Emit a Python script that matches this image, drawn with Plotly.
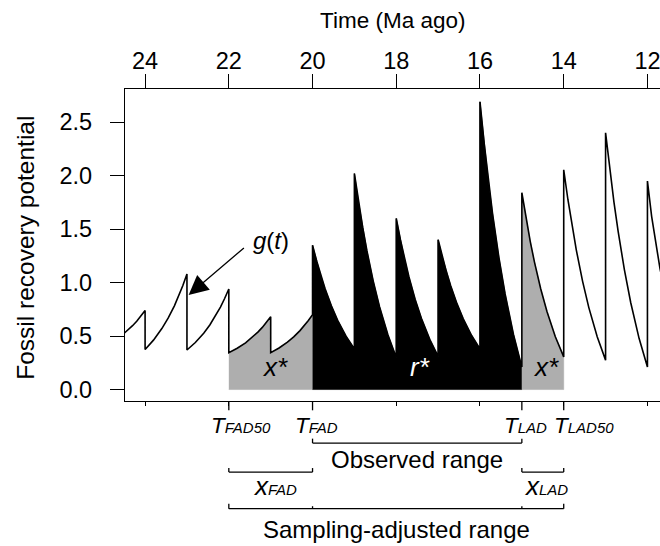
import plotly.graph_objects as go

# ---------------- data ----------------
tick_years = [24, 22, 20, 18, 16, 14, 12]
tick_year_text = ["24", "22", "20", "18", "16", "14", "12"]
y_ticks = [0.0, 0.5, 1.0, 1.5, 2.0, 2.5]
y_tick_text = ["0.0", "0.5", "1.0", "1.5", "2.0", "2.5"]

# key dates (Ma ago)
t_fad50 = 22
t_fad = 20
t_lad = 15
t_lad50 = 14

# g(t): fossil recovery potential, one list per 1-Ma sampling segment
seg_time = [
    [24.52, 24.4, 24.3, 24.2, 24.1, 24.0],
    [24.0, 23.8, 23.6, 23.45, 23.3, 23.2, 23.1, 23.0],
    [23.0, 22.8, 22.6, 22.45, 22.3, 22.2, 22.1, 22.0],
    [22.0, 21.8, 21.6, 21.45, 21.3, 21.2, 21.1, 21.0],
    [21.0, 20.8, 20.6, 20.45, 20.3, 20.2, 20.1, 20.0],
    [20.0, 19.9, 19.8, 19.7, 19.55, 19.4, 19.2, 19.0],
    [19.0, 18.9, 18.8, 18.7, 18.55, 18.4, 18.2, 18.0],
    [18.0, 17.9, 17.8, 17.7, 17.55, 17.4, 17.2, 17.0],
    [17.0, 16.9, 16.8, 16.7, 16.55, 16.4, 16.2, 16.0],
    [16.0, 15.9, 15.8, 15.7, 15.55, 15.4, 15.2, 15.0],
    [15.0, 14.9, 14.8, 14.7, 14.55, 14.4, 14.2, 14.0],
    [14.0, 13.9, 13.8, 13.7, 13.55, 13.4, 13.2, 13.0],
    [13.0, 12.9, 12.8, 12.7, 12.55, 12.4, 12.2, 12.0],
    [12.0, 11.9, 11.8, 11.7, 11.6],
]
seg_g = [
    [0.519, 0.558, 0.597, 0.639, 0.687, 0.74],
    [0.375, 0.462, 0.570, 0.667, 0.783, 0.871, 0.970, 1.08],
    [0.37, 0.440, 0.527, 0.606, 0.700, 0.771, 0.851, 0.94],
    [0.345, 0.386, 0.437, 0.484, 0.539, 0.581, 0.628, 0.68],
    [0.345, 0.389, 0.443, 0.492, 0.551, 0.595, 0.645, 0.70],
    [1.35, 1.199, 1.063, 0.942, 0.783, 0.648, 0.499, 0.38],
    [2.02, 1.752, 1.511, 1.296, 1.014, 0.775, 0.512, 0.30],
    [1.60, 1.399, 1.218, 1.057, 0.845, 0.666, 0.469, 0.31],
    [1.40, 1.241, 1.098, 0.971, 0.803, 0.662, 0.505, 0.38],
    [2.69, 2.303, 1.956, 1.646, 1.239, 0.894, 0.515, 0.21],
    [1.84, 1.601, 1.386, 1.194, 0.942, 0.729, 0.494, 0.305],
    [2.055, 1.777, 1.528, 1.306, 1.014, 0.766, 0.494, 0.275],
    [2.40, 2.058, 1.752, 1.478, 1.119, 0.814, 0.479, 0.21],
    [1.95, 1.62, 1.36, 1.13, 0.95],
]

# ---------------- figure ----------------
FONT = "Liberation Sans, Arial, Helvetica, sans-serif"
GRAY = "#AEAEAE"
PLOT_TOP, PLOT_BOTTOM = 89.0, 400.7
PLOT_H = PLOT_BOTTOM - PLOT_TOP


def py(p):
    """pixel row -> paper y"""
    return (PLOT_BOTTOM - p) / PLOT_H


fig = go.Figure()


def fill_between(t_start, t_end, color):
    xs, ys = [], []
    for ts, gs in zip(seg_time, seg_g):
        if ts[0] <= t_start and ts[-1] >= t_end:
            xs += ts
            ys += gs
    xs += [t_end, t_start]
    ys += [0, 0]
    fig.add_trace(go.Scatter(x=xs, y=ys, mode="lines", fill="toself",
                             fillcolor=color, line=dict(width=0.6, color=color),
                             hoverinfo="skip"))


fill_between(t_fad50, t_fad, GRAY)
fill_between(t_fad, t_lad, "black")
fill_between(t_lad, t_lad50, GRAY)

all_t, all_g = [], []
for ts, gs in zip(seg_time, seg_g):
    all_t += ts
    all_g += gs
fig.add_trace(go.Scatter(x=all_t, y=all_g, mode="lines",
                         line=dict(color="black", width=1.6), hoverinfo="skip"))
# invisible trace to activate the top axis
fig.add_trace(go.Scatter(x=[tick_years[0]], y=[0], xaxis="x2", mode="markers",
                         marker=dict(opacity=0), hoverinfo="skip"))

x_range = [24.48, 11.70]
axis_common = dict(showgrid=False, zeroline=False, showline=True, linecolor="black",
                   linewidth=1.3, ticks="outside", tickcolor="black", tickwidth=1.3)

fig.update_layout(
    width=660, height=546,
    margin=dict(l=124.5, r=0, t=PLOT_TOP, b=546 - PLOT_BOTTOM, pad=0),
    plot_bgcolor="white", paper_bgcolor="white", showlegend=False,
    font=dict(family=FONT, color="black"),
    xaxis=dict(range=x_range, tickvals=tick_years, ticklen=4, showticklabels=False,
               **axis_common),
    xaxis2=dict(range=x_range, overlaying="x", side="top", anchor="y",
                tickvals=tick_years, ticktext=tick_year_text, ticklen=14,
                tickfont=dict(size=23.5, family=FONT, color="black"),
                ticklabelstandoff=-5, ticklabeloverflow="allow", **axis_common),
    yaxis=dict(range=[-0.107, 2.81], tickvals=y_ticks, ticktext=y_tick_text, ticklen=14,
               tickfont=dict(size=23.5, family=FONT, color="black"),
               ticklabelstandoff=13, **axis_common),
)

# titles
fig.add_annotation(text="Time (Ma ago)", xref="paper", yref="paper", x=0.5, y=py(21),
                   xanchor="center", yanchor="middle", showarrow=False,
                   font=dict(size=22.5, family=FONT, color="black"))
fig.add_annotation(text="Fossil recovery potential", xref="paper", yref="paper",
                   x=(25 - 124.5) / 535.5, y=py(248), textangle=-90,
                   xanchor="center", yanchor="middle", showarrow=False,
                   font=dict(size=24.5, family=FONT, color="black"))

# area labels
fig.add_annotation(text="<i>x*</i>", x=(t_fad50 + t_fad) / 2, y=0.21, xshift=4,
                   showarrow=False, font=dict(size=26, family=FONT, color="black"))
fig.add_annotation(text="<i>r*</i>", x=(t_fad + t_lad) / 2, y=0.21, xshift=3,
                   showarrow=False, font=dict(size=26, family=FONT, color="white"))
fig.add_annotation(text="<i>x*</i>", x=(t_lad + t_lad50) / 2, y=0.21, xshift=3,
                   showarrow=False, font=dict(size=26, family=FONT, color="black"))

# g(t) label and arrow
fig.add_annotation(text="<i>g</i>(<i>t</i>)", x=21.0, y=1.39, showarrow=False,
                   font=dict(size=24, family=FONT, color="black"))
fig.add_annotation(text="", x=22.96, y=0.884, ax=21.604, ay=1.336, axref="x", ayref="y",
                   showarrow=True, arrowhead=2, arrowsize=3, arrowwidth=1.3,
                   arrowcolor="black", standoff=0, startstandoff=0)

# long ticks at key dates
shapes = []
for t in [t_fad50, t_fad, t_lad, t_lad50]:
    shapes.append(dict(type="line", xref="x", yref="paper", x0=t, x1=t,
                       y0=py(PLOT_BOTTOM), y1=py(410), line=dict(color="black", width=1.3)))


def bracket(t0, t1, yline, ytop, marks=()):
    shapes.append(dict(type="line", xref="x", yref="paper", x0=t0, x1=t1,
                       y0=py(yline), y1=py(yline), line=dict(color="black", width=1.3)))
    for t in (t0, t1):
        shapes.append(dict(type="line", xref="x", yref="paper", x0=t, x1=t,
                           y0=py(yline), y1=py(ytop), line=dict(color="black", width=1.3)))
    for t in marks:
        shapes.append(dict(type="line", xref="x", yref="paper", x0=t, x1=t,
                           y0=py(yline), y1=py(yline - 2.5), line=dict(color="black", width=1.3)))


bracket(t_fad, t_lad, 442.7, 438.3)
bracket(t_fad50, t_fad, 471.7, 467.7)
bracket(t_lad, t_lad50, 471.7, 467.7)
bracket(t_fad50, t_lad50, 508.3, 503.3, marks=(t_fad, t_lad))
fig.update_layout(shapes=shapes)

SUB = "<span style='font-size:15px'>{}</span>"
labels = [
    ("<i>T" + SUB.format("FAD50") + "</i>", t_fad50, -19.6),
    ("<i>T" + SUB.format("FAD") + "</i>", t_fad, -19.3),
    ("<i>T" + SUB.format("LAD") + "</i>", t_lad, -19.7),
    ("<i>T" + SUB.format("LAD50") + "</i>", t_lad50, -11.6),
]
for txt, t, dx in labels:
    fig.add_annotation(text=txt, x=t, xref="x", yref="paper", y=py(425), xshift=dx,
                       xanchor="left", yanchor="middle", showarrow=False,
                       font=dict(size=22.5, family=FONT, color="black"))

fig.add_annotation(text="Observed range", x=(t_fad + t_lad) / 2, xref="x", yref="paper",
                   y=py(459), yanchor="middle", showarrow=False,
                   font=dict(size=24, family=FONT, color="black"))
fig.add_annotation(text="<i>x" + SUB.format("FAD") + "</i>", x=t_fad50, xshift=22,
                   xanchor="left", xref="x", yref="paper", y=py(486), yanchor="middle",
                   showarrow=False, font=dict(size=26, family=FONT, color="black"))
fig.add_annotation(text="<i>x" + SUB.format("LAD") + "</i>", x=t_lad, xshift=0,
                   xanchor="left", xref="x", yref="paper", y=py(486), yanchor="middle",
                   showarrow=False, font=dict(size=26, family=FONT, color="black"))
fig.add_annotation(text="Sampling-adjusted range", x=(t_fad50 + t_lad50) / 2, xref="x",
                   yref="paper", y=py(529), yanchor="middle", showarrow=False,
                   font=dict(size=24, family=FONT, color="black"))

fig.write_html("out.html")
